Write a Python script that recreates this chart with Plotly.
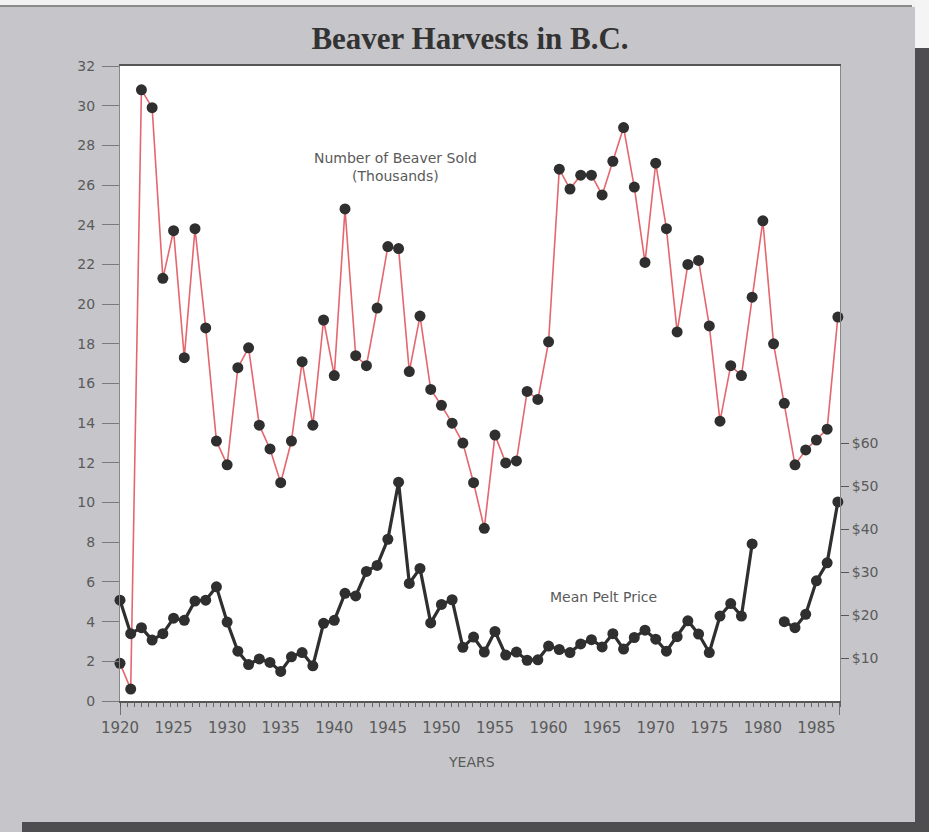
import plotly.graph_objects as go

years = list(range(1920, 1988))

beaver_sold = [
    1.9, 0.6, 30.8, 29.9, 21.3, 23.7, 17.3, 23.8, 18.8, 13.1,
    11.9, 16.8, 17.8, 13.9, 12.7, 11.0, 13.1, 17.1, 13.9, 19.2,
    16.4, 24.8, 17.4, 16.9, 19.8, 22.9, 22.8, 16.6, 19.4, 15.7,
    14.9, 14.0, 13.0, 11.0, 8.7, 13.4, 12.0, 12.1, 15.6, 15.2,
    18.1, 26.8, 25.8, 26.5, 26.5, 25.5, 27.2, 28.9, 25.9, 22.1,
    27.1, 23.8, 18.6, 22.0, 22.2, 18.9, 14.1, 16.9, 16.4, 20.35,
    24.2, 18.0, 15.0, 11.9, 12.65, 13.15, 13.7, 19.35,
]

pelt_price = [
    23.5, 15.7, 17.1, 14.2, 15.7, 19.3, 18.8, 23.3, 23.5, 26.6,
    18.4, 11.6, 8.5, 9.8, 9.0, 6.9, 10.3, 11.3, 8.2, 18.1,
    18.8, 25.1, 24.5, 30.2, 31.6, 37.7, 51.0, 27.4, 30.9, 18.2,
    22.5, 23.6, 12.5, 14.9, 11.4, 16.2, 10.7, 11.4, 9.5, 9.6,
    12.8, 12.0, 11.3, 13.3, 14.3, 12.6, 15.7, 12.1, 14.8, 16.5,
    14.4, 11.6, 15.0, 18.7, 15.6, 11.3, 19.8, 22.7, 19.8, 36.6,
    None, None, 18.5, 17.1, 20.2, 28.0, 32.2, 46.4,
]

left_ticks = list(range(0, 33, 2))
right_ticks = [10, 20, 30, 40, 50, 60]
right_labels = ["$10", "$20", "$30", "$40", "$50", "$60"]
x_ticks = list(range(1920, 1986, 5))

X_RANGE = [1920, 1987.2]
LEFT_RANGE = [0, 32]
RIGHT_RANGE = [0, 148]
MINOR_STEP = 0.672

PAGE = "#c6c6ca"
TXT = "#5a5a5a"
MARK = "#2f2f2f"
SANS = "DejaVu Sans, Liberation Sans, Arial, sans-serif"

fig = go.Figure()

# empty helper trace so the fine-tick axis is drawn
fig.add_trace(go.Scatter(x=[None], y=[None], mode="lines", showlegend=False,
                         hoverinfo="skip", xaxis="x2", yaxis="y"))
fig.add_trace(go.Scatter(
    x=years, y=beaver_sold, mode="lines+markers",
    line=dict(color="#e5666e", width=1.6),
    marker=dict(color=MARK, size=11),
    cliponaxis=False, showlegend=False, xaxis="x", yaxis="y",
))
fig.add_trace(go.Scatter(
    x=years, y=pelt_price, mode="lines+markers",
    line=dict(color=MARK, width=3.2),
    marker=dict(color=MARK, size=11),
    connectgaps=False, cliponaxis=False, showlegend=False, xaxis="x", yaxis="y2",
))

tickfont = dict(family=SANS, size=15, color=TXT)

fig.update_layout(
    width=929, height=832,
    margin=dict(l=120, r=89, t=66, b=131),
    paper_bgcolor=PAGE, plot_bgcolor="white",
    title=dict(
        text="<b>Beaver Harvests in B.C.</b>",
        x=470 / 929, xanchor="center", y=1 - 38 / 832, yanchor="middle",
        font=dict(family="Liberation Serif, Times New Roman, serif", size=31, color="#333333"),
    ),
    xaxis=dict(
        range=X_RANGE, tickmode="array", tickvals=x_ticks,
        ticktext=[str(v) for v in x_ticks],
        ticks="outside", ticklen=12, tickcolor="rgba(0,0,0,0)",
        showgrid=False, zeroline=False,
        showline=True, linecolor="#555555", linewidth=1.5, mirror=True,
        tickfont=tickfont,
    ),
    xaxis2=dict(
        range=X_RANGE, overlaying="x", side="bottom", anchor="y",
        tickmode="linear", tick0=X_RANGE[0], dtick=MINOR_STEP,
        ticks="outside", ticklen=5, tickcolor="#666666",
        showticklabels=False, showgrid=False, zeroline=False, showline=False,
    ),
    yaxis=dict(
        range=LEFT_RANGE, tickmode="array", tickvals=left_ticks,
        ticks="outside", ticklen=17, tickcolor="#7a7a7a",
        ticklabelstandoff=4,
        showgrid=False, zeroline=False,
        showline=True, linecolor="#888888", linewidth=1, mirror=True,
        tickfont=dict(family=SANS, size=14, color=TXT),
    ),
    yaxis2=dict(
        range=RIGHT_RANGE, overlaying="y", side="right", anchor="x",
        tickmode="array", tickvals=right_ticks, ticktext=right_labels,
        ticks="outside", ticklen=8, tickcolor="#555555",
        showgrid=False, zeroline=False, showline=False,
        tickfont=dict(family=SANS, size=14, color=TXT),
    ),
    annotations=[
        dict(text="Number of Beaver Sold<br>(Thousands)", x=1945.7, y=26.9,
             xref="x", yref="y", showarrow=False,
             font=dict(family=SANS, size=14, color=TXT)),
        dict(text="Mean Pelt Price", x=1965.1, y=5.25, xref="x", yref="y",
             showarrow=False,
             font=dict(family=SANS, size=14, color=TXT)),
        dict(text="YEARS", x=(471 - 120) / 720, y=-(762 - 701) / 635,
             xref="paper", yref="paper", showarrow=False, yanchor="middle",
             font=dict(family=SANS, size=14, color=TXT)),
    ],
    shapes=[
        dict(type="line", xref="x", yref="paper", x0=X_RANGE[0], x1=X_RANGE[0],
             y0=0, y1=-0.022, line=dict(color="#555555", width=1.5)),
        dict(type="line", xref="x", yref="paper", x0=X_RANGE[1], x1=X_RANGE[1],
             y0=0, y1=-0.022, line=dict(color="#555555", width=1.5)),
        dict(type="rect", xref="paper", yref="paper", x0=(915 - 120) / 720, x1=1.15,
             y0=-0.25, y1=(701 - 48) / 635, fillcolor="#4e4e50", line=dict(width=0),
             layer="above"),
        dict(type="rect", xref="paper", yref="paper", x0=(22 - 120) / 720, x1=1.15,
             y0=-0.25, y1=(701 - 822) / 635, fillcolor="#4e4e50", line=dict(width=0),
             layer="above"),
        dict(type="rect", xref="paper", yref="paper", x0=-0.2, x1=1.15,
             y0=(701 - 7) / 635, y1=1.2, fillcolor="#f2f2f2", line=dict(width=0),
             layer="above"),
        dict(type="rect", xref="paper", yref="paper", x0=(915 - 120) / 720, x1=1.15,
             y0=(701 - 48) / 635, y1=1.2, fillcolor="#f4f4f4", line=dict(width=0),
             layer="above"),
        dict(type="line", xref="paper", yref="paper", x0=-0.2, x1=(912 - 120) / 720,
             y0=(701 - 6) / 635, y1=(701 - 6) / 635, line=dict(color="#8a8a8a", width=2),
             layer="above"),
    ],
)

fig.write_html("out.html", config={"displayModeBar": False},
               post_script="document.body.style.margin='0px';")
